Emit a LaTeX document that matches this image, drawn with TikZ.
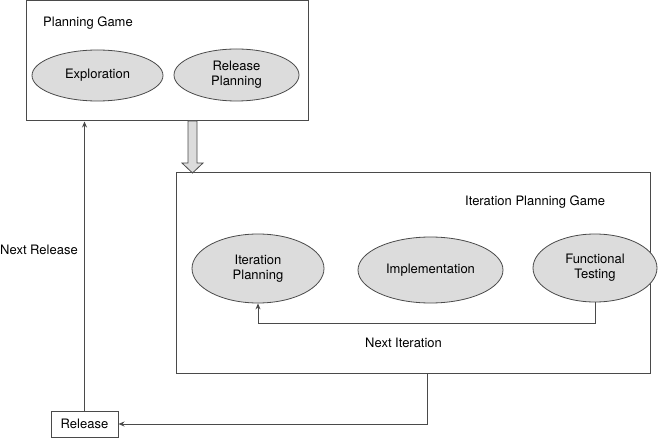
\documentclass[tikz,border=0pt]{standalone}
\usepackage{fontspec}
\setmainfont{TeX Gyre Heros}
\usetikzlibrary{shapes.geometric,arrows.meta}
\definecolor{linec}{HTML}{4A4A4A}
\definecolor{ellfill}{HTML}{DCDCDC}
\begin{document}
\begin{tikzpicture}[x=1pt,y=-1pt,
  every node/.style={font=\fontsize{13}{15}\selectfont, inner sep=0pt, text=black},
  box/.style={draw=linec, line width=1pt, rectangle, minimum width=#1},
  ell/.style={draw=linec, line width=0.8pt, fill=ellfill, ellipse, align=center},
  conn/.style={draw=linec, line width=1pt, -{Stealth[length=6pt,width=5pt]}},
  lbl/.style={anchor=west}
]
\useasboundingbox (0,0) rectangle (668,438);
% Planning Game box
\node[draw=linec, line width=1pt, minimum width=282, minimum height=120] (pg) at (167,61) {};
\node[lbl] (pgl) at (43,23) {Planning Game};
\node[ell, minimum width=131, minimum height=51] (expl) at (97.5,75.5) {Exploration};
\node[ell, minimum width=125, minimum height=52] (rp) at (236.5,75) {Release\\Planning};
% Iteration Planning Game box
\node[draw=linec, line width=1pt, minimum width=474, minimum height=200] (ipg) at (413,273) {};
\node[lbl] (ipgl) at (465,202) {Iteration Planning Game};
\node[ell, minimum width=132, minimum height=69] (ip) at (258,268.5) {Iteration\\Planning};
\node[ell, minimum width=145, minimum height=66] (impl) at (430.5,270) {Implementation};
\node[ell, minimum width=124, minimum height=68] (ft) at (595,268) {Functional\\Testing};
\node[lbl] (nil) at (365,343) {Next Iteration};
% Release box
\node[draw=linec, line width=1pt, minimum width=67, minimum height=26] (rel) at (84.5,424) {Release};
\node[lbl] (nrl) at (0,250) {Next Release};
% big hollow arrow
\coordinate (ba1) at (192.5,121);
\fill[ellfill, draw=linec, line width=0.8pt]
  (188,121) -- (197,121) -- (197,163) -- (203,163) -- (192.5,173) -- (182,163) -- (188,163) -- cycle;
% connectors
\coordinate (ftb) at (ft.south);
\draw[conn] (ft.south) -- ++(0,21) -| (ip.south);
\coordinate (ipgo) at (427,373);
\draw[conn] (ipgo) |- (rel.east);
\draw[conn] (rel.north) -- (rel.north |- pg.south);
\end{tikzpicture}
\end{document}
